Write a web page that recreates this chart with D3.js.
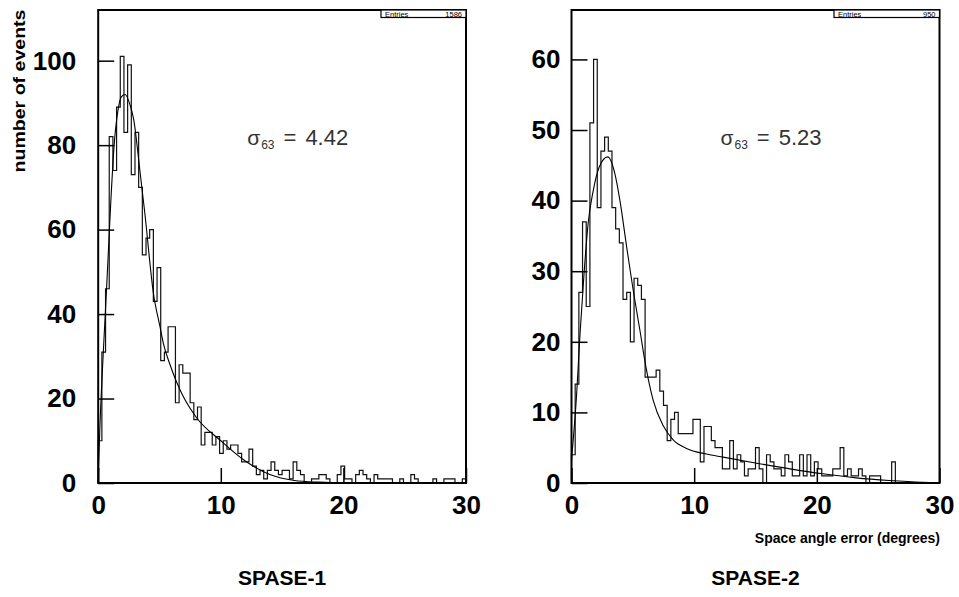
<!DOCTYPE html>
<html>
<head>
<meta charset="utf-8">
<script src="https://cdn.jsdelivr.net/npm/d3@7"></script>
<style>
  body { margin: 0; background: #fff; }
  svg { display: block; }
</style>
</head>
<body>
<svg width="959" height="597"></svg>
<script>
// bin width in degrees, 100 bins from 0 to 30
const binWidth = 0.3;

// SPASE-1 histogram (counts per bin)
const spase1Counts = [
  10, 31, 46, 82, 74, 89, 101, 83, 99, 73, 83, 70,
  54, 58, 60, 43, 51, 29, 31, 37, 37,
  19, 28, 26, 26, 19, 15, 18, 9, 12, 12, 9, 11, 7, 10, 8, 9,
  9, 7, 5, 5, 8, 4, 2, 3, 1, 3, 5, 3,
  2, 3, 3, 1, 5, 3, 2, 0, 0, 1, 1, 2, 2, 1, 0, 0, 2, 4, 1, 1, 0,
  2, 3, 2, 1, 0, 2, 1, 1, 1, 1, 0, 0, 1, 0, 0, 2, 1, 0, 0, 0,
  0, 1, 0, 0, 1, 1, 1, 0, 0, 1
];

// SPASE-2 histogram
const spase2Counts = [
  4, 14, 27, 37, 25, 51, 60, 39, 47, 49, 47, 39, 36, 34, 26, 27, 20, 29, 28, 26,
  15, 15, 15, 16, 13, 11, 6, 9, 10, 7, 7, 7, 7, 9, 9, 3, 8, 8, 6, 5,
  5, 2, 2, 6, 2, 4, 3, 1, 2, 2, 5, 2, 0, 4, 3, 2, 2, 1, 4, 3,
  1, 1, 4, 1, 4, 1, 3, 2, 1, 1, 1, 2, 2, 5, 1, 2, 1, 1, 2, 1,
  0, 1, 1, 1, 0, 0, 0, 3, 0, 0, 0, 0, 0, 0, 0, 0, 0, 0, 0, 0
];

// fitted curves as [angle, events]
const spase1Fit = [
  [0, 0], [0.1, 10], [0.4, 30], [0.7, 47], [1.0, 65], [1.3, 80], [1.6, 88],
  [1.9, 91.5], [2.2, 92], [2.6, 89.5], [2.9, 86], [3.4, 74], [3.8, 64],
  [4.5, 45], [5.04, 37], [5.32, 33], [5.86, 28], [6.41, 23.8], [6.95, 20.4],
  [8.04, 15.4], [10, 10], [12, 5.2], [14, 2.0], [16, 0.6], [18, 0.2],
  [20, 0.05], [30, 0]
];
const spase2Fit = [
  [0, 3.3], [0.42, 12.6], [0.69, 21], [1.02, 29.6], [1.37, 37], [1.78, 41.5],
  [2.27, 44.8], [2.95, 46.2], [3.54, 43.8], [3.95, 40], [4.5, 33.4],
  [5.03, 27.3], [5.58, 21.6], [6.07, 16.4], [6.66, 11.7], [7.48, 8.1],
  [8.29, 6.1], [9.38, 4.9], [11, 4.1], [12.36, 3.66], [15.1, 2.8],
  [17.8, 2.0], [20.5, 1.3], [23.2, 0.73], [25.9, 0.35], [28.6, 0.1], [30, 0.05]
];

// tick labels
const xMajor = [0, 10, 20, 30];
const y1Major = [0, 20, 40, 60, 80, 100];
const y2Major = [0, 10, 20, 30, 40, 50, 60];

const titles = ["SPASE-1", "SPASE-2"];
const entries = [1586, 950];
const sigmas = ["4.42", "5.23"];

const panels = [
  { counts: spase1Counts, fit: spase1Fit, yMajor: y1Major, yMax: 112, yMinorStep: 5,
    left: 98.2, right: 466, entries: entries[0], sigma: sigmas[0], title: titles[0],
    boxLeft: 381, labelPad: 22 },
  { counts: spase2Counts, fit: spase2Fit, yMajor: y2Major, yMax: 67, yMinorStep: 2,
    left: 571.5, right: 939.5, entries: entries[1], sigma: sigmas[1], title: titles[1],
    boxLeft: 834, labelPad: 11 }
];

const svg = d3.select("svg");
const plotTop = 10, plotBottom = 483;
const font = "'Liberation Sans', Arial, Helvetica, sans-serif";

svg.append("rect").attr("width", 959).attr("height", 597).attr("fill", "#fff");

panels.forEach((p) => {
  const x = d3.scaleLinear().domain([0, 30]).range([p.left, p.right]);
  const y = d3.scaleLinear().domain([0, p.yMax]).range([plotBottom, plotTop]);
  const g = svg.append("g");

  // histogram outline
  const pts = [{ a: 0, c: 0 }];
  p.counts.forEach((c, i) => pts.push({ a: i * binWidth, c }));
  pts.push({ a: 30, c: 0 });
  const step = d3.line().x(d => x(d.a)).y(d => y(d.c)).curve(d3.curveStepAfter);
  g.append("path")
    .attr("d", step(pts))
    .attr("fill", "none")
    .attr("stroke", "#111")
    .attr("stroke-width", 1.2);

  // fit
  const fitLine = d3.line().x(d => x(d[0])).y(d => y(d[1])).curve(d3.curveMonotoneX);
  g.append("path")
    .attr("d", fitLine(p.fit))
    .attr("fill", "none")
    .attr("stroke", "#000")
    .attr("stroke-width", 1.1);

  // axes (ticks inward)
  const yMinor = d3.range(0, p.yMax + 0.001, p.yMinorStep);
  const xMinor = d3.range(0, 30.001, 2);

  const ax = g.append("g").attr("transform", `translate(${p.left},0)`);
  ax.call(d3.axisLeft(y).tickValues(yMinor).tickSize(-8).tickFormat(""));
  ax.call(d3.axisLeft(y).tickValues(p.yMajor).tickSize(-16).tickPadding(p.labelPad));

  const bx = g.append("g").attr("transform", `translate(0,${plotBottom})`);
  bx.call(d3.axisBottom(x).tickValues(xMinor).tickSize(-7).tickFormat(""));
  bx.call(d3.axisBottom(x).tickValues(xMajor).tickSize(-15).tickPadding(13));

  [ax, bx].forEach(a => {
    a.selectAll(".domain").remove();
    a.selectAll("line").attr("stroke", "#000").attr("stroke-width", 1.5);
    a.selectAll("text")
      .attr("fill", "#000")
      .attr("font-family", font)
      .attr("font-weight", "bold")
      .attr("font-size", 26);
  });

  // frame
  g.append("rect")
    .attr("x", p.left).attr("y", plotTop)
    .attr("width", p.right - p.left).attr("height", plotBottom - plotTop)
    .attr("fill", "none").attr("stroke", "#000").attr("stroke-width", 2);

  // stats box
  const bw = p.right - p.boxLeft;
  g.append("rect")
    .attr("x", p.boxLeft).attr("y", plotTop)
    .attr("width", bw).attr("height", 7.5)
    .attr("fill", "#fff").attr("stroke", "#000").attr("stroke-width", 1.2);
  g.append("text")
    .attr("x", p.boxLeft + 4).attr("y", plotTop + 6.5)
    .attr("font-family", font).attr("font-size", 7.5)
    .text("Entries");
  g.append("text")
    .attr("x", p.right - 4).attr("y", plotTop + 6.5)
    .attr("text-anchor", "end")
    .attr("font-family", font).attr("font-size", 7.5)
    .text(p.entries);

  // sigma label
  const st = g.append("text")
    .attr("x", p.left + 149).attr("y", 145)
    .attr("font-family", font).attr("font-size", 22).attr("fill", "#333");
  st.append("tspan").attr("font-size", 21).text("σ");
  st.append("tspan").attr("font-size", 12).attr("dy", 4).attr("dx", 1).text("63");
  st.append("tspan").attr("dy", -4).attr("dx", 9).text("=");
  st.append("tspan").attr("dx", 9).text(p.sigma);

  // panel title
  g.append("text")
    .attr("x", (p.left + p.right) / 2).attr("y", 585)
    .attr("text-anchor", "middle")
    .attr("font-family", font).attr("font-weight", "bold").attr("font-size", 21)
    .text(p.title);
});

// y axis title
svg.append("text")
  .attr("transform", "translate(25,91) rotate(-90)")
  .attr("text-anchor", "middle")
  .attr("font-family", font).attr("font-weight", "bold").attr("font-size", 16)
  .attr("textLength", 163).attr("lengthAdjust", "spacingAndGlyphs")
  .text("number of events");

// x axis title
svg.append("text")
  .attr("x", 940).attr("y", 543)
  .attr("text-anchor", "end")
  .attr("font-family", font).attr("font-weight", "bold").attr("font-size", 14)
  .text("Space angle error (degrees)");
</script>
</body>
</html>
